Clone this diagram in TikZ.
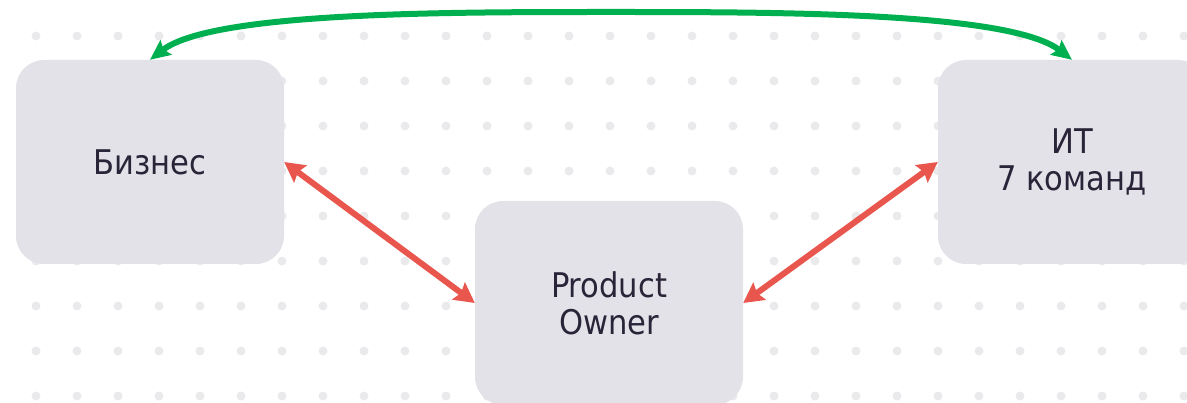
\documentclass[tikz,border=0pt]{standalone}
\usepackage{fontspec}
\setmainfont{DejaVu Sans Condensed}
\usetikzlibrary{arrows.meta}
\definecolor{boxfill}{HTML}{E3E2E9}
\definecolor{textc}{HTML}{2A2438}
\definecolor{dotc}{HTML}{EAEAED}
\definecolor{linkred}{HTML}{E8564E}
\definecolor{linkgreen}{HTML}{00B050}
\tikzset{
  box/.style={fill=boxfill, rounded corners=28pt, minimum width=268pt,
    minimum height=204pt, inner sep=0pt, align=center, text=textc,
    font=\fontsize{34}{37}\selectfont},
  redlink/.style={draw=linkred, line width=6pt,
    {Stealth[length=20pt,width=21pt,inset=3pt]}-{Stealth[length=20pt,width=21pt,inset=3pt]}},
  greenlink/.style={draw=linkgreen, line width=6pt,
    {Stealth[length=20pt,width=18pt,inset=3pt]}-{Stealth[length=20pt,width=18pt,inset=3pt]}},
}
\begin{document}
\begin{tikzpicture}[x=1pt, y=-1pt]
  \useasboundingbox (0,0) rectangle (1187,403);
  \clip (0,0) rectangle (1187,403);
  % dotted background grid
  \foreach \i in {0,...,28}
    \foreach \j in {0,...,8}
      \fill[dotc] (36+41*\i, 36+45*\j) circle[radius=4.5pt];
  % blocks
  \node[box] (biz) at (150,162) {Бизнес};
  \node[box] (po)  at (609,303) {Product\\Owner};
  \node[box] (it)  at (1072,162) {ИТ\\7 команд};
  % links
  \coordinate (gtop) at (611,12);
  \draw[greenlink] (biz.north) .. controls (212,12) and (444,12) .. (gtop)
                   .. controls (778,12) and (1010,12) .. (it.north);
  \draw[redlink] (biz.east) -- (po.west);
  \draw[redlink] (po.east) -- (it.west);
\end{tikzpicture}
\end{document}
